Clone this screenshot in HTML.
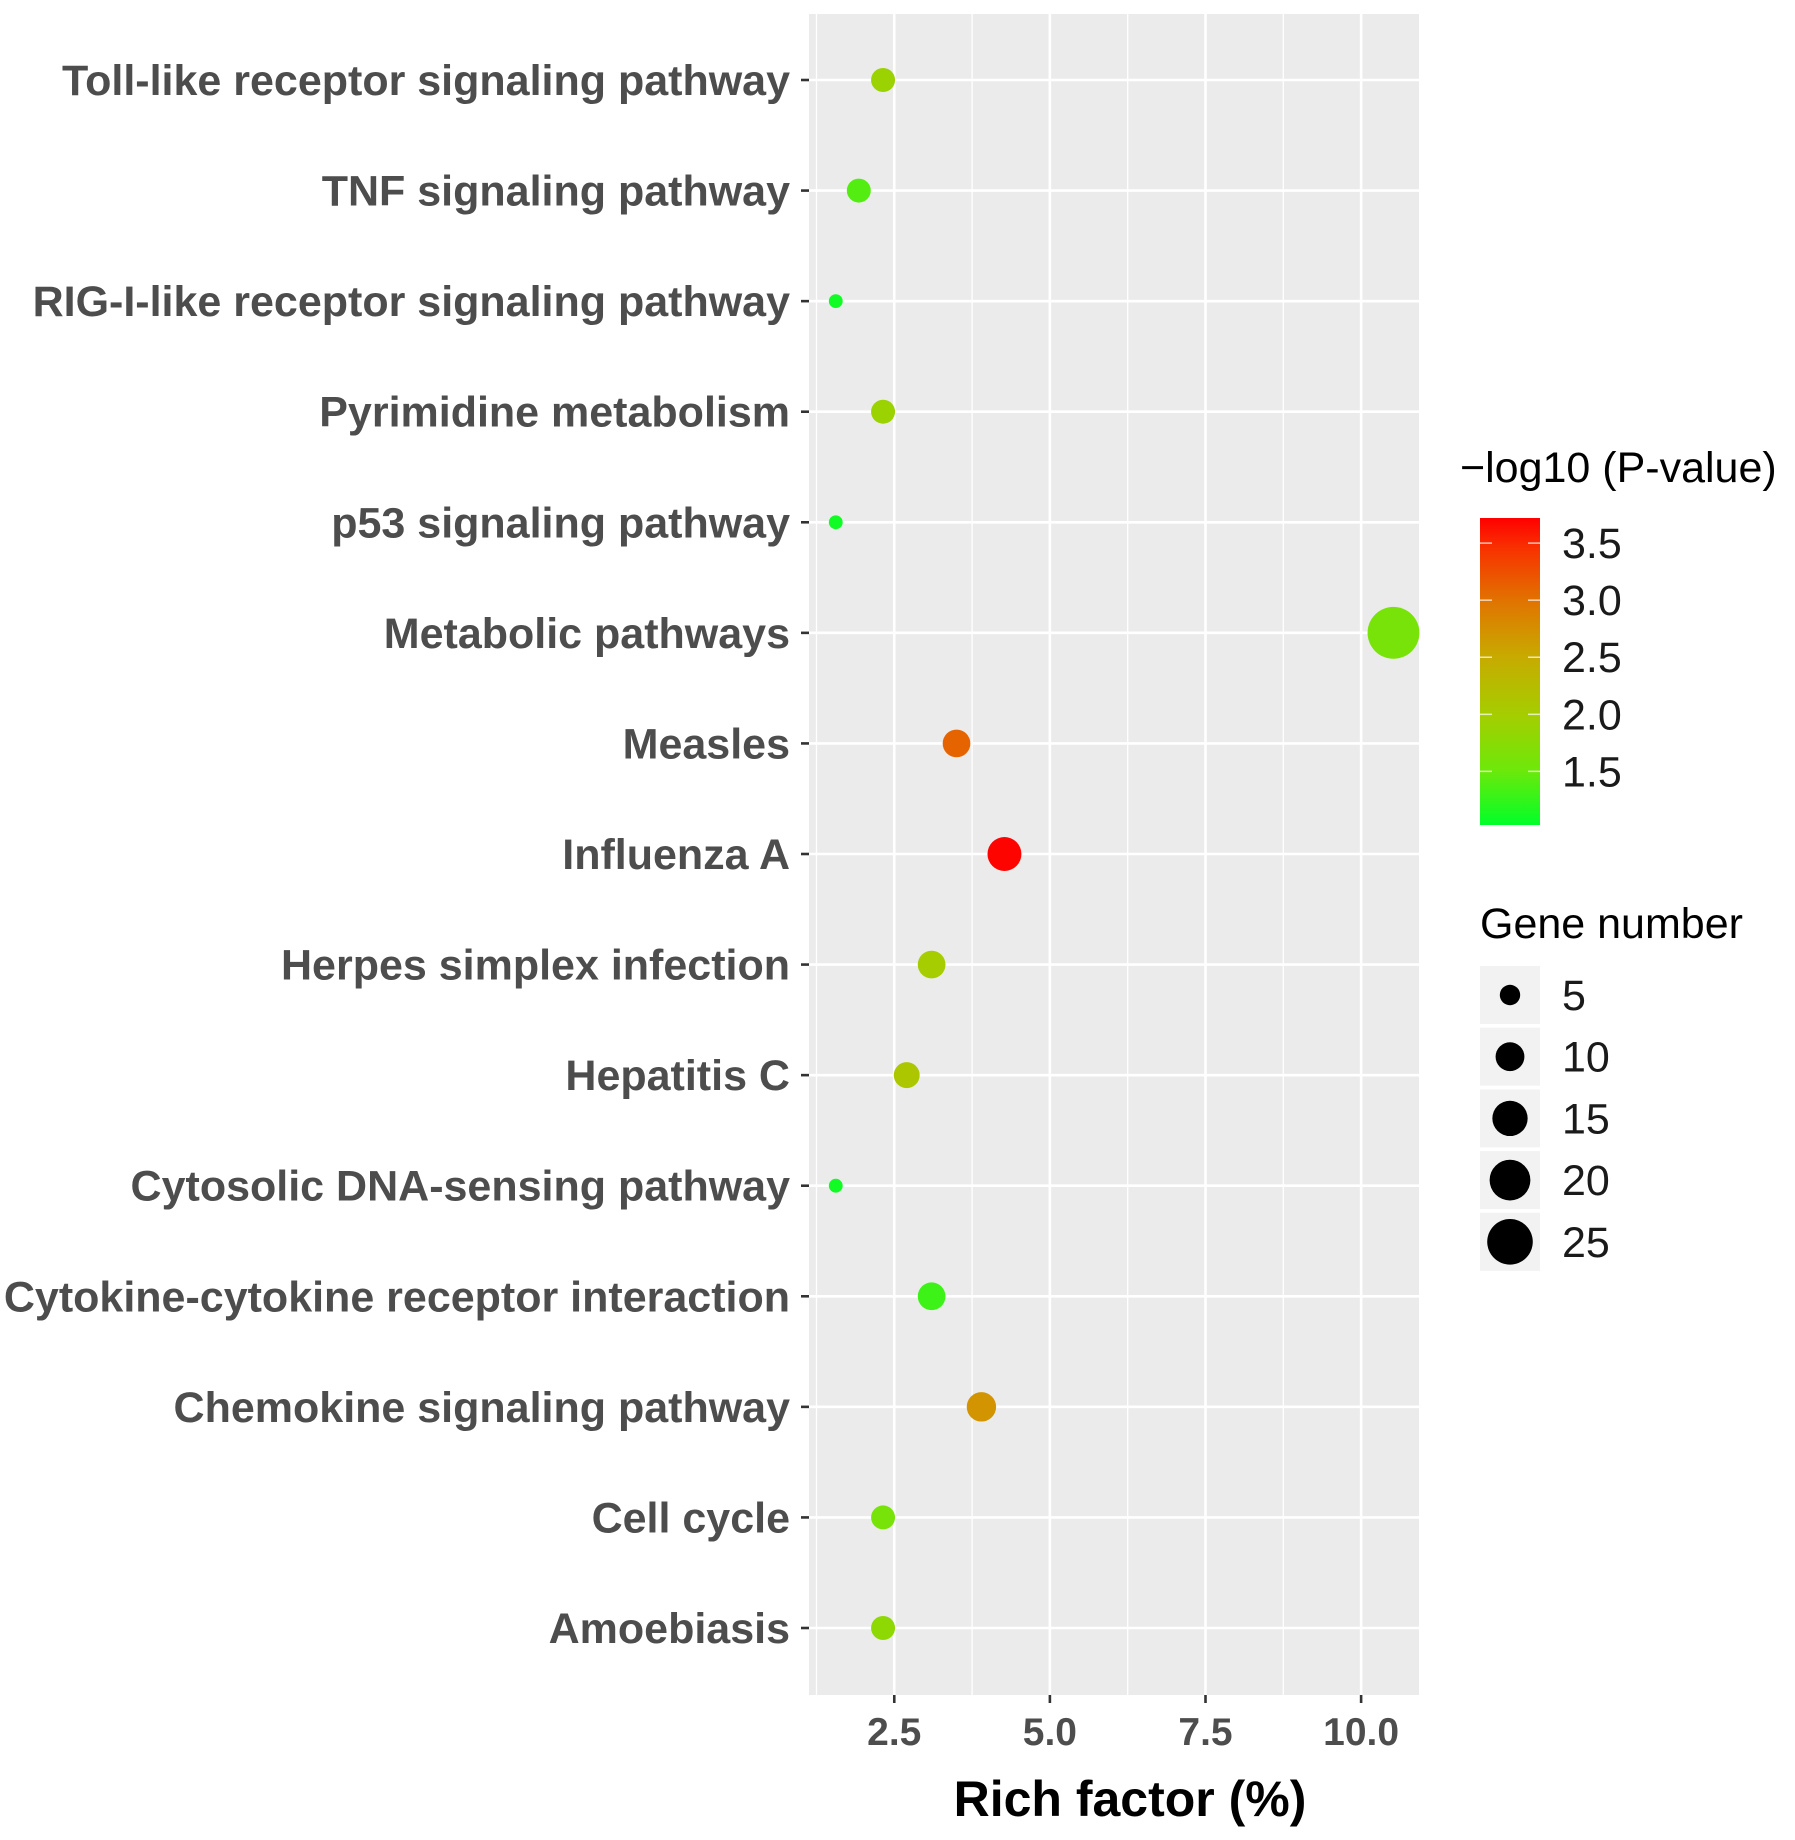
<!DOCTYPE html>
<html><head><meta charset="utf-8"><style>
html,body{margin:0;padding:0;background:#fff;}
svg{display:block;font-family:"Liberation Sans",Arial,sans-serif;}
</style></head><body>
<svg id="chart" width="1795" height="1840" viewBox="0 0 1795 1840"></svg>
<script>
const categories=["Toll-like receptor signaling pathway","TNF signaling pathway","RIG-I-like receptor signaling pathway","Pyrimidine metabolism","p53 signaling pathway","Metabolic pathways","Measles","Influenza A","Herpes simplex infection","Hepatitis C","Cytosolic DNA-sensing pathway","Cytokine-cytokine receptor interaction","Chemokine signaling pathway","Cell cycle","Amoebiasis"];
const richFactor=[2.32,1.93,1.56,2.32,1.56,10.52,3.5,4.27,3.1,2.7,1.56,3.1,3.9,2.32,2.32];
const pValueLog=[1.9,1.4,1.1,1.9,1.1,1.6,3.1,3.7,2.0,2.1,1.1,1.3,2.7,1.6,1.8];
const geneNumber=[6,6,2,6,2,28,8,12,8,7,2,8,9,6,6];
const xTicks=[2.5,5.0,7.5,10.0];
const xMinor=[1.25,3.75,6.25,8.75];
const colorTicks=[1.5,2.0,2.5,3.0,3.5];
const sizeLegend=[5,10,15,20,25];

const NS="http://www.w3.org/2000/svg";
const svg=document.getElementById('chart');
const P={l:809,r:1419,t:14,b:1695};
const X0=1.13,X1=10.93;
const xs=v=>P.l+(v-X0)/(X1-X0)*(P.r-P.l);
const ys=i=>80+i*(1628-80)/(categories.length-1);
const rs=n=>4.9*Math.sqrt(n);
const C0=1.03,C1=3.72;
const stops=[[0,[0,255,40]],[0.18,[110,232,10]],[0.36,[165,205,0]],[0.55,[200,170,0]],[0.73,[225,115,0]],[0.9,[248,50,0]],[1,[255,0,0]]];
function col(v){let t=Math.max(0,Math.min(1,(v-C0)/(C1-C0)));for(let i=1;i<stops.length;i++){if(t<=stops[i][0]){const a=stops[i-1],b=stops[i];const f=(t-a[0])/(b[0]-a[0]);const c=a[1].map((x,k)=>Math.round(x+(b[1][k]-x)*f));return `rgb(${c})`;}}return 'rgb(255,0,0)';}
function mk(tag,attrs,parent){const e=document.createElementNS(NS,tag);for(const k in attrs)e.setAttribute(k,attrs[k]);(parent||svg).appendChild(e);return e;}

const panel=mk('rect',{x:P.l,y:P.t,width:P.r-P.l,height:P.b-P.t,fill:'#ebebeb'});


xMinor.forEach(v=>{const l=mk('line',{x1:xs(v),x2:xs(v),y1:P.t,y2:P.b,stroke:'#fff','stroke-width':1.3});

});
xTicks.forEach(v=>{const l=mk('line',{x1:xs(v),x2:xs(v),y1:P.t,y2:P.b,stroke:'#fff','stroke-width':2.6});


const t=mk('line',{x1:xs(v),x2:xs(v),y1:P.b,y2:P.b+8,stroke:'#333','stroke-width':2.6});


const tx=mk('text',{x:xs(v),y:1745,'text-anchor':'middle','font-size':39,'font-weight':'bold',fill:'#4d4d4d'});tx.textContent=v.toFixed(1);

});
categories.forEach((c,i)=>{const y=ys(i);
const l=mk('line',{x1:P.l,x2:P.r,y1:y,y2:y,stroke:'#fff','stroke-width':2.6});


const t=mk('line',{x1:P.l-8,x2:P.l,y1:y,y2:y,stroke:'#333','stroke-width':2.6});


const tx=mk('text',{x:790,y:y+15,'text-anchor':'end','font-size':43,'font-weight':'bold',fill:'#4d4d4d'});tx.textContent=c;

});
categories.forEach((c,i)=>{const d=mk('circle',{cx:xs(richFactor[i]),cy:ys(i),r:rs(geneNumber[i]),fill:col(pValueLog[i])});

});
const at=mk('text',{x:1130,y:1816,'text-anchor':'middle','font-size':50,'font-weight':'bold',fill:'#000'});at.textContent='Rich factor (%)';



// color legend
const CB={x:1480,w:60,t:518,b:825};
const cy=v=>CB.b-(v-C0)/(C1-C0)*(CB.b-CB.t);
const defs=mk('defs',{});const g=mk('linearGradient',{id:'cg',x1:0,y1:1,x2:0,y2:0},defs);
stops.forEach(s=>mk('stop',{offset:s[0],'stop-color':`rgb(${s[1]})`},g));
const ct=mk('text',{x:1460,y:482,'font-size':43,fill:'#000'});ct.textContent='\u2212log10 (P-value)';


const cb=mk('rect',{x:CB.x,y:CB.t,width:CB.w,height:CB.b-CB.t,fill:'url(#cg)'});


colorTicks.forEach(v=>{const y=cy(v);
mk('line',{x1:CB.x,x2:CB.x+12,y1:y,y2:y,stroke:'#fff','stroke-width':1.5,opacity:0.7});
mk('line',{x1:CB.x+CB.w-12,x2:CB.x+CB.w,y1:y,y2:y,stroke:'#fff','stroke-width':1.5,opacity:0.7});
const tx=mk('text',{x:1562,y:y+15,'font-size':43,fill:'#1a1a1a'});tx.textContent=v.toFixed(1);

});

// size legend
const st=mk('text',{x:1480,y:938,'font-size':43,fill:'#000'});st.textContent='Gene number';


sizeLegend.forEach((n,i)=>{const y=995+i*61.7;
mk('rect',{x:1480,y:y-29,width:60,height:58,fill:'#f2f2f2'});
const d=mk('circle',{cx:1510,cy:y,r:rs(n)*0.93,fill:'#000'});


const tx=mk('text',{x:1562,y:y+15,'font-size':43,fill:'#1a1a1a'});tx.textContent=n;

});
</script>
</body></html>
